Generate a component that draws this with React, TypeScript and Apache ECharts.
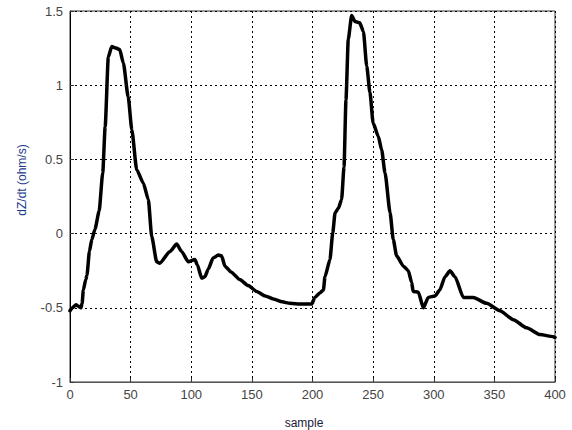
import React, { useEffect, useRef } from "react";
import * as echarts from "echarts";

const sampleX = [0, 2, 5, 7, 9, 10, 11, 13, 14, 16, 18, 20.6, 24, 27, 29, 31.6, 34.4, 38, 41, 44, 48, 51, 55, 60.5, 64.6, 67.4, 71.5, 74, 82.5, 88, 92, 97.6, 103, 105, 108.6, 111.3, 114, 118, 122.3, 125, 127.8, 133, 140, 147, 154, 161, 167.7, 175, 181.4, 190, 199.3, 202, 206, 209, 210.3, 214.4, 216.7, 218.6, 221.3, 224, 226, 227.6, 229.5, 232.3, 235, 239, 242, 244.7, 247.4, 250, 254.3, 257, 259.8, 264, 266.6, 269.4, 275, 279, 281.8, 283, 287.3, 291.4, 295.5, 301, 305, 309.3, 313.4, 317.5, 324.4, 332.6, 343.6, 354.6, 365.6, 376.6, 387.6, 398.6, 400];
const dzdt = [-0.52, -0.5, -0.48, -0.49, -0.5, -0.47, -0.38, -0.31, -0.28, -0.12, -0.04, 0.03, 0.15, 0.41, 0.72, 1.19, 1.26, 1.25, 1.24, 1.15, 0.92, 0.7, 0.43, 0.34, 0.23, -0.02, -0.19, -0.2, -0.12, -0.07, -0.12, -0.19, -0.175, -0.21, -0.3, -0.29, -0.24, -0.165, -0.145, -0.15, -0.22, -0.26, -0.31, -0.35, -0.39, -0.42, -0.44, -0.46, -0.47, -0.475, -0.475, -0.43, -0.4, -0.38, -0.29, -0.175, 0.005, 0.14, 0.17, 0.23, 0.45, 0.9, 1.31, 1.47, 1.43, 1.42, 1.36, 1.13, 0.95, 0.745, 0.655, 0.565, 0.41, 0.14, -0.04, -0.15, -0.22, -0.25, -0.33, -0.39, -0.395, -0.5, -0.43, -0.42, -0.38, -0.29, -0.25, -0.29, -0.43, -0.43, -0.47, -0.52, -0.58, -0.635, -0.68, -0.695, -0.7];
const xTicks = [0, 50, 100, 150, 200, 250, 300, 350, 400];
const yTicks = [-1, -0.5, 0, 0.5, 1, 1.5];
const xLabel = "sample";
const yLabel = "dZ/dt (ohm/s)";

export default function App() {
  const ref = useRef<HTMLDivElement>(null);
  useEffect(() => {
    if (!ref.current) return;
    const chart = echarts.init(ref.current, null, { renderer: "svg" });
    const tickFont = { fontFamily: "Liberation Sans, Arial, sans-serif", fontSize: 13, color: "#444" };
    chart.setOption({
      animation: false,
      backgroundColor: "#fff",
      grid: { left: 70, right: 17, top: 11, bottom: 48, show: true, borderColor: "#333", borderWidth: 1, backgroundColor: "transparent" },
      xAxis: {
        type: "value",
        min: xTicks[0],
        max: xTicks[xTicks.length - 1],
        interval: 50,
        axisLine: { show: true, onZero: false, lineStyle: { color: "#555", width: 1 } },
        axisTick: { show: true, inside: true, length: 4, lineStyle: { color: "#333" } },
        axisLabel: { ...tickFont, margin: 6 },
        splitLine: { show: true, lineStyle: { color: "#000", type: [2, 3], width: 1 } },
      },
      yAxis: {
        type: "value",
        min: yTicks[0],
        max: yTicks[yTicks.length - 1],
        interval: 0.5,
        axisLine: { show: true, onZero: false, lineStyle: { color: "#000", width: 1 } },
        axisTick: { show: true, inside: true, length: 4, lineStyle: { color: "#333" } },
        axisLabel: { ...tickFont, margin: 7, formatter: (v: number) => String(v) },
        splitLine: { show: true, lineStyle: { color: "#000", type: [2, 3], width: 1 } },
      },
      graphic: [
        {
          type: "text",
          x: 304,
          y: 423,
          style: { text: xLabel, fontFamily: "Liberation Sans, Arial, sans-serif", fontSize: 12, fill: "#1a1a3a", align: "center", verticalAlign: "middle" },
        },
        {
          type: "text",
          x: 22,
          y: 180,
          rotation: Math.PI / 2,
          style: { text: yLabel, fontFamily: "Liberation Sans, Arial, sans-serif", fontSize: 12, fill: "#1a3a8a", align: "center", verticalAlign: "middle" },
        },
      ],
      series: [
        {
          type: "line",
          data: sampleX.map((x, i) => [x, dzdt[i]]),
          showSymbol: false,
          symbol: "none",
          smooth: 0.2,
          smoothMonotone: "x",
          lineStyle: { color: "#000", width: 3.5, join: "round", cap: "round" },
        },
      ],
    });
    return () => chart.dispose();
  }, []);
  return <div ref={ref} style={{ width: 572, height: 430, position: "absolute", left: 0, top: 0 }} />;
}
